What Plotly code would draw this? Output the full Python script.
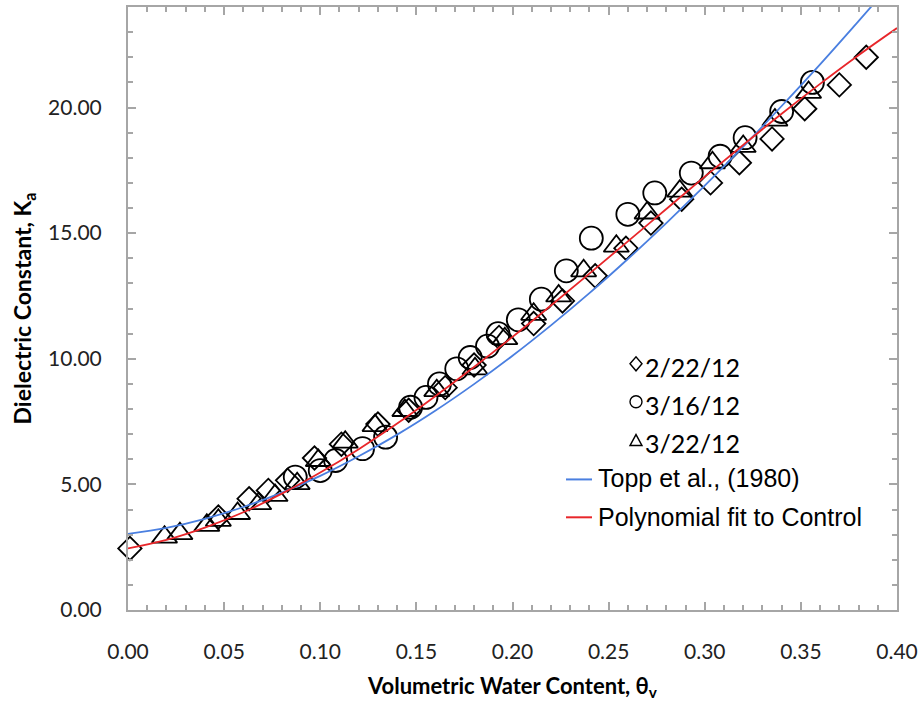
import plotly.graph_objects as go

# ---- data ----
theta_0222 = [0.001, 0.047, 0.063, 0.073, 0.083, 0.097, 0.111, 0.130, 0.146, 0.165, 0.180,
              0.193, 0.211, 0.226, 0.243, 0.259, 0.272, 0.288, 0.303, 0.318, 0.335, 0.352,
              0.370, 0.384]
ka_0222 = [2.45, 3.70, 4.43, 4.76, 5.16, 6.05, 6.60, 7.40, 7.95, 8.85, 9.75,
           10.85, 11.40, 12.30, 13.30, 14.40, 15.40, 16.35, 17.00, 17.80, 18.75, 19.95,
           20.90, 22.00]

theta_0316 = [0.087, 0.100, 0.108, 0.122, 0.134, 0.147, 0.155, 0.162, 0.171, 0.178, 0.187,
              0.1925, 0.203, 0.215, 0.228, 0.241, 0.260, 0.274, 0.293, 0.308, 0.321, 0.340,
              0.356]
ka_0316 = [5.29, 5.55, 5.95, 6.42, 6.88, 8.07, 8.46, 9.00, 9.60, 10.05, 10.50,
           11.00, 11.55, 12.37, 13.50, 14.80, 15.75, 16.60, 17.39, 18.06, 18.80, 19.84,
           21.00]

theta_0322 = [0.019, 0.027, 0.041, 0.047, 0.057, 0.068, 0.0765, 0.088, 0.099, 0.113, 0.1285,
              0.144, 0.1606, 0.1805, 0.196, 0.211, 0.224, 0.237, 0.254, 0.270, 0.287, 0.304,
              0.320, 0.3365, 0.354]
ka_0322 = [2.90, 3.04, 3.37, 3.57, 3.84, 4.23, 4.56, 5.03, 5.95, 6.68, 7.34,
           7.94, 8.73, 9.60, 10.80, 11.77, 12.50, 13.50, 14.48, 15.80, 16.67, 17.80,
           18.45, 19.50, 20.60]

curve_theta = [0.00, 0.02, 0.04, 0.06, 0.08, 0.10, 0.12, 0.14, 0.16, 0.18, 0.20,
               0.22, 0.24, 0.26, 0.28, 0.30, 0.32, 0.34, 0.36, 0.38, 0.40]
topp_ka = [3.03, 3.27, 3.63, 4.10, 4.67, 5.34, 6.12, 6.98, 7.94, 8.99, 10.12,
           11.33, 12.61, 13.97, 15.40, 16.89, 18.44, 20.06, 21.72, 23.44, 25.18]
poly_ka = [2.45, 2.79, 3.28, 3.89, 4.63, 5.47, 6.40, 7.42, 8.52, 9.67, 10.87,
           12.12, 13.39, 14.67, 15.96, 17.25, 18.51, 19.75, 20.94, 22.08, 23.16]

series_names = ["2/22/12", "3/16/12", "3/22/12"]
line_names = ["Topp et al., (1980)", "Polynomial fit to Control"]

BLUE = "#4a7fe0"
RED = "#e8262a"
AXIS = "#a6a6a6"

fig = go.Figure()
mk_line = dict(color="black", width=1.8)
fig.add_trace(go.Scatter(x=theta_0222, y=ka_0222, mode="markers", name=series_names[0],
                         cliponaxis=False,
                         marker=dict(symbol="diamond-open", size=18, color="black", line=mk_line)))
fig.add_trace(go.Scatter(x=theta_0316, y=ka_0316, mode="markers", name=series_names[1],
                         cliponaxis=False,
                         marker=dict(symbol="circle-open", size=23, color="black", line=mk_line)))
fig.add_trace(go.Scatter(x=theta_0322, y=ka_0322, mode="markers", name=series_names[2],
                         cliponaxis=False,
                         marker=dict(symbol="triangle-up-open", size=22, color="black", line=mk_line)))
fig.add_trace(go.Scatter(x=curve_theta, y=topp_ka, mode="lines", name=line_names[0],
                         line=dict(color=BLUE, width=1.8, shape="spline")))
fig.add_trace(go.Scatter(x=curve_theta, y=poly_ka, mode="lines", name=line_names[1],
                         line=dict(color=RED, width=1.8, shape="spline")))

axis_common = dict(
    showline=True, linecolor=AXIS, linewidth=2, mirror="ticks",
    ticks="inside", ticklen=8, tickwidth=2, tickcolor=AXIS,
    showgrid=False, zeroline=False, tickformat=".2f",
    tickfont=dict(family="Lato", size=21, color="#222222"),
)
fig.update_xaxes(range=[0, 0.4], dtick=0.05, tick0=0,
                 minor=dict(dtick=0.01, ticks="inside", ticklen=5, tickwidth=2, tickcolor=AXIS),
                 ticklabelstandoff=22,
                 title=dict(text="Volumetric Water Content, θ<sub>v</sub>", standoff=16,
                            font=dict(family="Lato", size=22, color="black", weight="bold")),
                 **axis_common)
fig.update_yaxes(range=[0, 24], dtick=5, tick0=0,
                 minor=dict(dtick=1, ticks="inside", ticklen=5, tickwidth=2, tickcolor=AXIS),
                 ticklabelstandoff=20,
                 title=dict(text="Dielectric Constant, K<sub>a</sub>", standoff=10,
                            font=dict(family="Lato", size=23, color="black", weight="bold")),
                 **axis_common)

# ---- manual legend (pixel -> paper conversions for a 128..897 x 5..610 plot area) ----
def px(xp):
    return (xp - 128) / 769.0

def py(yp):
    return (610 - yp) / 605.0

shapes = []
leg_x = px(636)
sym_style = dict(type="path", xref="paper", yref="paper", xsizemode="pixel", ysizemode="pixel",
                 line=dict(color="black", width=1.4))
shapes.append(dict(sym_style, xanchor=leg_x, yanchor=py(363), path="M -6,0 L 0,7 L 6,0 L 0,-7 Z"))
shapes.append(dict(type="circle", xref="paper", yref="paper", xsizemode="pixel", ysizemode="pixel",
                   xanchor=leg_x, yanchor=py(401), x0=-6, x1=6, y0=-6, y1=6,
                   line=dict(color="black", width=1.4)))
shapes.append(dict(sym_style, xanchor=leg_x, yanchor=py(440), path="M -6,-5 L 6,-5 L 0,6 Z"))
shapes.append(dict(type="line", xref="paper", yref="paper", x0=px(566), x1=px(592),
                   y0=py(479), y1=py(479), line=dict(color=BLUE, width=2)))
shapes.append(dict(type="line", xref="paper", yref="paper", x0=px(566), x1=px(592),
                   y0=py(517), y1=py(517), line=dict(color=RED, width=2)))

annotations = []
for name, yy in zip(series_names, [366, 404, 442]):
    annotations.append(dict(text=name, xref="paper", yref="paper", x=px(643), y=py(yy),
                            xanchor="left", yanchor="middle", showarrow=False,
                            font=dict(family="Lato", size=25, color="black")))
for name, yy in zip(line_names, [478, 517]):
    annotations.append(dict(text=name, xref="paper", yref="paper", x=px(596), y=py(yy),
                            xanchor="left", yanchor="middle", showarrow=False,
                            font=dict(family="Liberation Sans", size=25, color="black")))

fig.update_layout(
    width=923, height=709,
    margin=dict(l=128, r=26, t=5, b=99),
    plot_bgcolor="white", paper_bgcolor="white",
    showlegend=False,
    shapes=shapes, annotations=annotations,
)

fig.write_html("out.html")
